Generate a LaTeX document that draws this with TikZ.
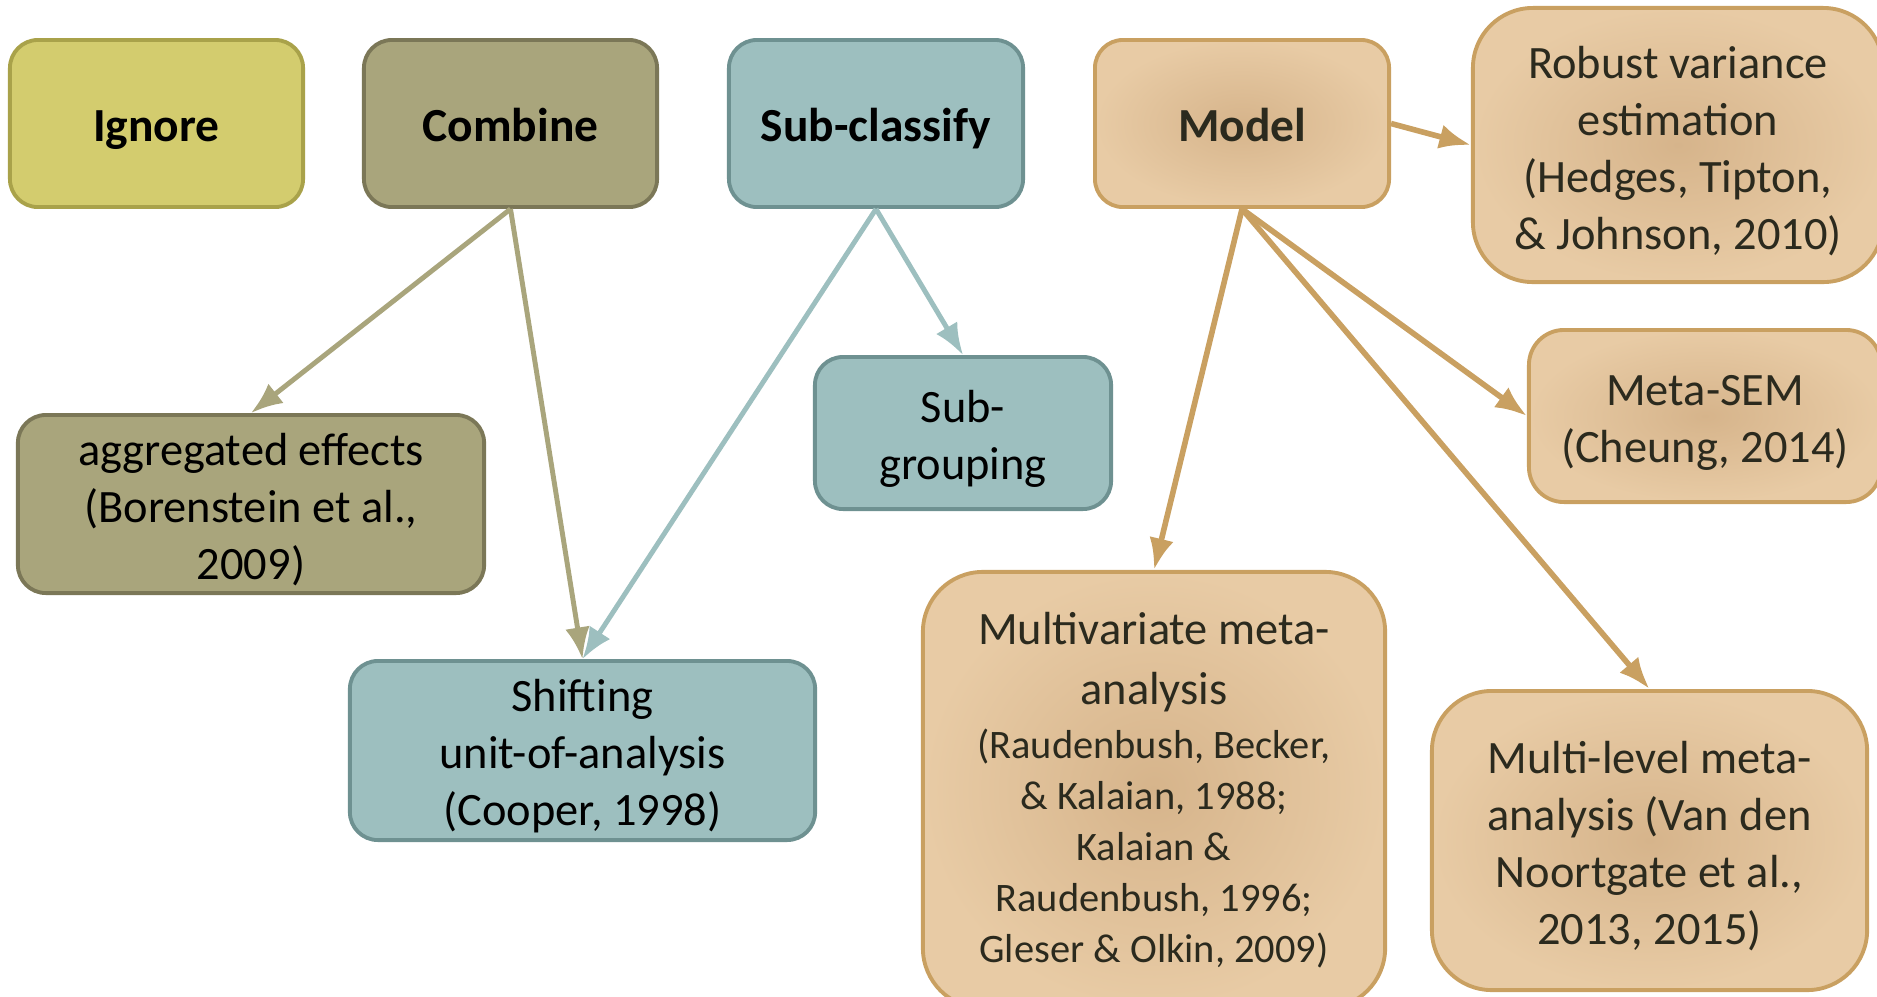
\documentclass[tikz,border=0pt]{standalone}
\usepackage{fontspec}
\setmainfont{Carlito}
\usetikzlibrary{arrows.meta}
\definecolor{ignoreFill}{HTML}{D3CC6E}
\definecolor{ignoreLine}{HTML}{A9A24A}
\definecolor{combFill}{HTML}{A9A57C}
\definecolor{combLine}{HTML}{7B7757}
\definecolor{subFill}{HTML}{9DBFBF}
\definecolor{subLine}{HTML}{6E9191}
\definecolor{tanLight}{HTML}{E8CBA5}
\definecolor{tanDark}{HTML}{D6B48B}
\definecolor{tanLine}{HTML}{C9A061}
\definecolor{tanText}{HTML}{2B2A1E}
\newcommand{\firstline}{\rule{0pt}{12.5pt}}

\begin{document}
\begin{tikzpicture}[x=0.01cm,y=-0.01cm,
    box/.style={rounded corners=0.28cm, align=center, line width=1.1pt, inner sep=0pt,
      font=\fontsize{13.2}{16.2}\selectfont},
    title/.style={rounded corners=0.28cm, line width=1.1pt, inner sep=0pt,
      font=\fontsize{13.5}{16}\selectfont\bfseries, text height=12pt, text depth=1.6pt},
    ignorebox/.style={fill=ignoreFill, draw=ignoreLine},
    combbox/.style={fill=combFill, draw=combLine},
    subbox/.style={fill=subFill, draw=subLine},
    tanbox/.style={draw=tanLine, inner color=tanDark, outer color=tanLight, text=tanText},
    combarrow/.style={draw=combFill, line width=1.4pt, -{Latex[length=9pt,width=7pt]}},
    subarrow/.style={draw=subFill, line width=1.4pt, -{Latex[length=9pt,width=7pt]}},
    tanarrow/.style={draw=tanLine, line width=1.6pt, -{Latex[length=9pt,width=7pt]}}]
    \useasboundingbox (0,0) rectangle (1877,996);

    \node[title, ignorebox, minimum width=2.93cm, minimum height=1.67cm] (ignore) at (156.5,123.5) {Ignore};
    \node[title, combbox, minimum width=2.93cm, minimum height=1.67cm] (combine) at (510.5,123.5) {Combine};
    \node[title, subbox, minimum width=2.94cm, minimum height=1.67cm] (subcls) at (876,123.5) {Sub-classify};
    \node[title, tanbox, minimum width=2.94cm, minimum height=1.67cm] (model) at (1242,123.5) {Model};

    \node[box, tanbox, rounded corners=0.6cm, minimum width=4.1cm, minimum height=2.74cm] (robust) at (1678,145)
        {\firstline Robust variance\\estimation\\(Hedges, Tipton,\\\& Johnson, 2010)};
    \node[box, tanbox, rounded corners=0.35cm, minimum width=3.52cm, minimum height=1.72cm] (metasem) at (1705,416)
        {\firstline Meta-SEM\\(Cheung, 2014)};
    \node[box, subbox, minimum width=2.96cm, minimum height=1.52cm] (subgroup) at (963,433)
        {\firstline Sub-\\grouping};
    \node[box, combbox, minimum width=4.66cm, minimum height=1.78cm] (aggr) at (251,504)
        {\firstline aggregated effects\\(Borenstein et al.,\\2009)};
    \node[box, subbox, minimum width=4.65cm, minimum height=1.79cm] (shift) at (582.5,750.5)
        {\firstline Shifting\\unit-of-analysis\\(Cooper, 1998)};
    \node[box, tanbox, rounded corners=0.6cm, minimum width=4.62cm, minimum height=4.36cm,
        font=\fontsize{11.5}{14.5}\selectfont] (multivar) at (1154,790)
        {{\fontsize{13.2}{16}\selectfont Multivariate meta-}\\[2.5pt]
         {\fontsize{13.2}{16}\selectfont analysis}\\[0.8pt]
         (Raudenbush, Becker,\\\& Kalaian, 1988;\\Kalaian \&\\Raudenbush, 1996;\\Gleser \& Olkin, 2009)};
    \node[box, tanbox, rounded corners=0.6cm, minimum width=4.35cm, minimum height=2.99cm] (multilevel) at (1649.5,840.5)
        {\firstline Multi-level meta-\\analysis (Van den\\Noortgate et al.,\\2013, 2015)};

    \draw[combarrow] (combine.south) -- (aggr.north);
    \draw[combarrow] (combine.south) -- (shift.north);
    \draw[subarrow] (subcls.south) -- (shift.north);
    \draw[subarrow] (subcls.south) -- (subgroup.north);
    \draw[tanarrow] (model.east) -- (robust.west);
    \draw[tanarrow] (model.south) -- (multivar.north);
    \draw[tanarrow] (model.south) -- (metasem.west);
    \draw[tanarrow] (model.south) -- (multilevel.north);
\end{tikzpicture}
\end{document}
